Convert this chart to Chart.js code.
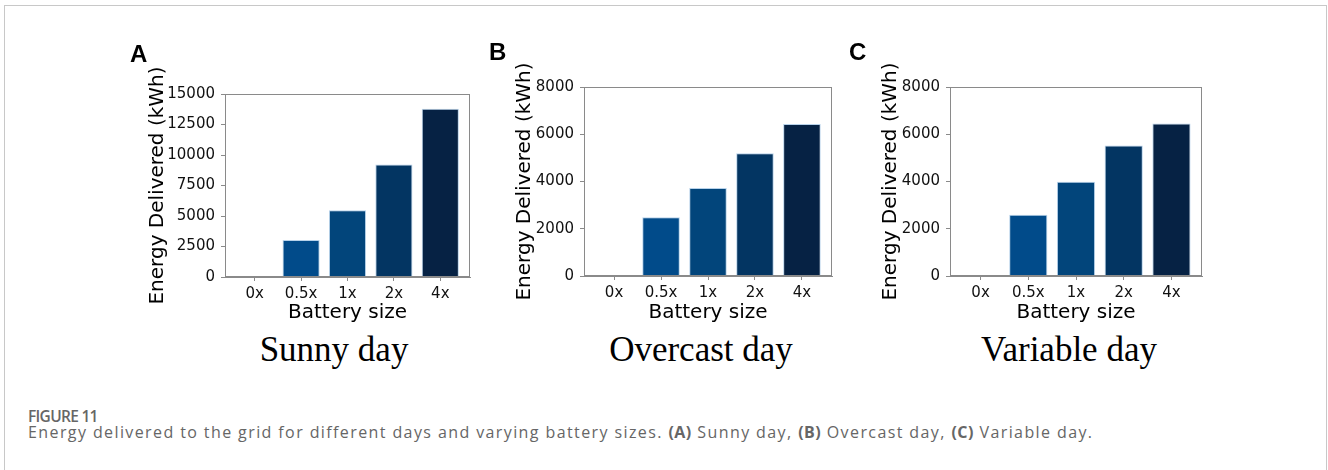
<!DOCTYPE html>
<html>
<head>
<meta charset="utf-8">
<script src="https://cdn.jsdelivr.net/npm/chart.js@4/dist/chart.umd.min.js"></script>
<style>
    body { margin: 0; width: 1328px; height: 470px; background: #fff; position: relative; overflow: hidden; }
    .frame { position: absolute; left: 4px; top: 5px; width: 1321px; height: 480px;
             border: 1px solid #c8c8c8; border-bottom: none; }
    canvas { position: absolute; }
    .letter { position: absolute; font: bold 24px "Liberation Sans", Arial, sans-serif; line-height: 24px; color: #000; }
    .day { position: absolute; width: 300px; text-align: center; font: 35px "Liberation Serif", "Times New Roman", serif;
           line-height: 35px; color: #000; }
    .fig { position: absolute; left: 28px; top: 405px; font: 600 15.5px "Open Sans", sans-serif; letter-spacing: -0.7px; color: #666; }
    .cap { position: absolute; left: 28px; top: 421px; font: 16px "Open Sans", sans-serif; letter-spacing: 1.4px; color: #666; white-space: nowrap; }
    .cap b { font-weight: 700; letter-spacing: 0.5px; }
</style>
</head>
<body>
<div class="frame"></div>

<canvas id="chartA" width="328" height="276" style="left:146px; top:49px"></canvas>
<canvas id="chartB" width="323" height="283" style="left:513px; top:42px"></canvas>
<canvas id="chartC" width="327" height="283" style="left:879px; top:42px"></canvas>

<div class="letter" style="left:130px; top:42px">A</div>
<div class="letter" style="left:489px; top:40px">B</div>
<div class="letter" style="left:849px; top:40px">C</div>

<div class="day" style="left:184px; top:332px">Sunny day</div>
<div class="day" style="left:551px; top:332px">Overcast day</div>
<div class="day" style="left:919px; top:332px">Variable day</div>

<div class="fig">FIGURE 11</div>
<div class="cap">Energy delivered to the grid for different days and varying battery sizes. <b>(A)</b> Sunny day, <b>(B)</b> Overcast day, <b>(C)</b> Variable day.</div>

<script>
const categories = ['0x', '0.5x', '1x', '2x', '4x'];
const sunny = [20, 3030, 5480, 9220, 13800];
const overcast = [40, 2490, 3720, 5200, 6430];
const variable = [40, 2590, 3990, 5520, 6460];
const sunnyMax = 15000, sunnyStep = 2500;
const cloudyMax = 8000, cloudyStep = 2000;
const barColors = ['#6a9cc8', '#014b8a', '#02457b', '#033562', '#062244'];

const axisGray = '#8a8a8a';
const tickFont = { family: 'DejaVu Sans', size: 15 };
const titleFont = { family: 'DejaVu Sans', size: 20 };

// top + right spines, like matplotlib's box
const boxPlugin = {
    id: 'box',
    afterDatasetsDraw(chart) {
        const a = chart.chartArea;
        const ctx = chart.ctx;
        ctx.save();
        ctx.strokeStyle = axisGray;
        ctx.lineWidth = 1;
        ctx.strokeRect(Math.round(a.left) + 0.5, Math.round(a.top) + 0.5,
            Math.round(a.right) - Math.round(a.left) - 1, Math.round(a.bottom) - Math.round(a.top) - 1);
        ctx.restore();
    }
};

function drawChart(id, values, yMax, yStep, yWidth, xHeight) {
    return new Chart(document.getElementById(id), {
        type: 'bar',
        data: {
            datasets: [{
                data: values.map((v, i) => ({ x: i, y: v })),
                backgroundColor: barColors,
                borderColor: 'rgba(175,205,232,0.9)',
                borderWidth: 1,
                borderSkipped: 'start',
                categoryPercentage: 1,
                barPercentage: 0.8
            }]
        },
        options: {
            responsive: false,
            animation: false,
            layout: { padding: { top: 45, right: 4, left: 0, bottom: 0 } },
            plugins: { legend: { display: false }, tooltip: { enabled: false } },
            scales: {
                x: {
                    type: 'linear',
                    min: -0.64,
                    max: 4.64,
                    offset: false,
                    grid: { offset: false, drawOnChartArea: false, color: axisGray, tickLength: 4 },
                    border: { color: axisGray },
                    afterBuildTicks: (scale) => { scale.ticks = categories.map((c, i) => ({ value: i })); },
                    afterFit: (scale) => { scale.height = xHeight; },
                    ticks: {
                        font: tickFont, color: '#111', padding: 4, maxRotation: 0,
                        callback: (v) => categories[v]
                    },
                    title: { display: true, text: 'Battery size', font: titleFont, color: '#000', padding: 0 }
                },
                y: {
                    min: 0,
                    max: yMax,
                    grid: { drawOnChartArea: false, color: axisGray, tickLength: 4 },
                    border: { color: axisGray },
                    afterFit: (scale) => { scale.width = yWidth; },
                    ticks: {
                        stepSize: yStep, font: tickFont, color: '#111', padding: 6,
                        callback: (v) => String(v)
                    },
                    title: { display: true, text: 'Energy Delivered (kWh)', font: titleFont, color: '#000', padding: 0 }
                }
            }
        },
        plugins: [boxPlugin]
    });
}

drawChart('chartA', sunny, sunnyMax, sunnyStep, 79, 48);
drawChart('chartB', overcast, cloudyMax, cloudyStep, 71, 49);
drawChart('chartC', variable, cloudyMax, cloudyStep, 71, 49);
</script>
</body>
</html>
